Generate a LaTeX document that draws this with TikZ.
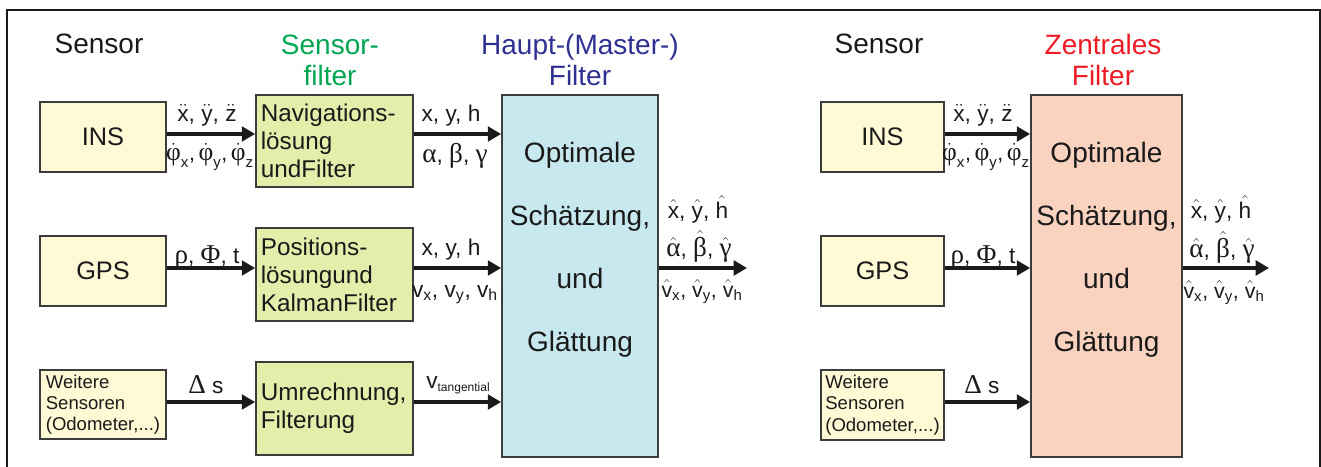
\documentclass[tikz,border=0pt]{standalone}
\usepackage{fontspec}
\usepackage{amsmath}
\setmainfont{Liberation Sans}
\newfontfamily\gr[Scale=1.2]{Liberation Serif}
\usetikzlibrary{arrows.meta}
\definecolor{sensfill}{HTML}{FFF9D5}
\definecolor{filtfill}{HTML}{E5EDAB}
\definecolor{mastfill}{HTML}{C8E8EF}
\definecolor{centfill}{HTML}{FAD3C0}
\definecolor{boxline}{HTML}{3C3C3C}
\definecolor{ink}{HTML}{1A1A1A}
\definecolor{hgreen}{HTML}{00A651}
\definecolor{hblue}{HTML}{2E3192}
\definecolor{hred}{HTML}{ED1C24}
\newcommand\tx[1]{\text{#1}}
\newcommand\grt[1]{\text{\gr #1}}
\tikzset{
 bx/.style={draw=boxline, line width=1.3pt, inner sep=0pt, text=ink},
 sensor/.style={bx, fill=sensfill, minimum height=52.5pt, font=\fontsize{19}{21}\selectfont},
 small/.style={align=left, font=\fontsize{13.9}{15.9}\selectfont},
 filt/.style={bx, fill=filtfill, minimum width=117.75pt, minimum height=69.5pt, text width=110.5pt, align=left, font=\fontsize{18.2}{21}\selectfont},
 arr/.style={line width=2.9pt, draw=ink, -{Triangle[length=10pt,width=11pt]}},
 lab/.style={anchor=base, font=\fontsize{17}{20}\selectfont, inner sep=0pt, text=ink},
 slab/.style={lab, font=\fontsize{16}{20}\selectfont},
 head/.style={align=center, font=\fontsize{21}{23.25}\selectfont, inner sep=0pt},
 big/.style={align=center, font=\fontsize{21}{47.25}\selectfont, inner sep=0pt, text=ink},
}
\begin{document}
\begin{tikzpicture}[x=0.75pt,y=-0.75pt]
\useasboundingbox (0,0) rectangle (1321,467);
% frame
\draw[line width=1.5pt, ink] (7,467) -- (7,10.5) -- (1320,10.5) -- (1320,467);
% rows
\coordinate (r1) at (0,134);
\coordinate (r2) at (0,268);
\coordinate (r3) at (0,402);
\coordinate (o1) at (747,268);
\coordinate (o2) at (1269,268);
% headers left
\node[head, anchor=base, text=ink] (hs1) at (99,54) {Sensor};
\node[head, text=hgreen] (hsf) at (330,60) {Sensor-\\filter};
\node[head, text=hblue] (hmf) at (580,60) {Haupt-(Master-)\\Filter};
% headers right
\node[head, anchor=base, text=ink] (hs2) at (879,54) {Sensor};
\node[head, text=hred] (hzf) at (1103,60) {Zentrales\\Filter};
% left sensors
\node[sensor, minimum width=94.5pt] (ins1) at (103,137) {INS};
\node[sensor, minimum width=94.5pt] (gps1) at (103,271) {GPS};
\node[sensor, small, minimum width=94.5pt, minimum height=51.75pt] (wei1) at (103,404.5) {Weitere\\Sensoren\\(Odometer,...)};
% sensor filters
\node[filt] (nav) at (334.5,141) {Navigations-\\lösung\\undFilter};
\node[filt, minimum height=69.75pt] (pos) at (334.5,274.5) {Positions-\\lösungund\\KalmanFilter};
\node[filt, minimum height=69.75pt] (umr) at (334.5,408.5) {Umrechnung,\\Filterung};
% master filter
\node[bx, fill=mastfill, minimum width=117pt, minimum height=271.5pt] (master) at (580,276) {};
\node[big] (mtext) at (580,250) {Optimale\\Schätzung,\\und\\Glättung};
% right sensors
\node[sensor, minimum width=92.25pt] (ins2) at (882.5,137) {INS};
\node[sensor, minimum width=92.25pt] (gps2) at (882.5,271) {GPS};
\node[sensor, small, minimum width=92.25pt, minimum height=52.5pt] (wei2) at (882.5,405) {Weitere\\Sensoren\\(Odometer,...)};
% central filter
\node[bx, fill=centfill, minimum width=113.25pt, minimum height=271.5pt] (central) at (1106.5,276) {};
\node[big] (ctext) at (1106.5,250) {Optimale\\Schätzung,\\und\\Glättung};
% arrows left
\draw[arr] (ins1.east |- r1) -- (nav.west |- r1);
\draw[arr] (nav.east |- r1) -- (master.west |- r1);
\draw[arr] (gps1.east |- r2) -- (pos.west |- r2);
\draw[arr] (pos.east |- r2) -- (master.west |- r2);
\draw[arr] (wei1.east |- r3) -- (umr.west |- r3);
\draw[arr] (umr.east |- r3) -- (master.west |- r3);
\draw[arr] (master.east |- r2) -- (o1);
% arrows right
\draw[arr] (ins2.east |- r1) -- (central.west |- r1);
\draw[arr] (gps2.east |- r2) -- (central.west |- r2);
\draw[arr] (wei2.east |- r3) -- (central.west |- r3);
\draw[arr] (central.east |- r2) -- (o2);
% labels left
\node[lab] (l1a) at (207,122) {$\ddot{\tx{x}}$, $\ddot{\tx{y}}$, $\ddot{\tx{z}}$};
\node[slab] (l1b) at (210,161) {$\dot{\grt{φ}}_{\tx{x}}$,\,$\dot{\grt{φ}}_{\tx{y}}$,\,$\dot{\grt{φ}}_{\tx{z}}$};
\node[lab] (l2a) at (451,122) {x, y, h};
\node[lab] (l2b) at (455,162) {{\gr α}, {\gr β}, {\gr γ}};
\node[lab] (l3a) at (207,263) {{\gr ρ}, {\gr Φ}, t};
\node[lab] (l4a) at (451,255) {x, y, h};
\node[lab] (l4b) at (455,297) {$\tx{v}_{\tx{x}}$, $\tx{v}_{\tx{y}}$, $\tx{v}_{\tx{h}}$};
\node[lab] (l5a) at (206,393) {{\gr Δ} s};
\node[lab] (l6a) at (458,388) {v\raisebox{-2.5pt}{\fontsize{9}{9}\selectfont tangential}};
\node[lab] (o1a) at (698,218) {$\hat{\tx{x}}$, $\hat{\tx{y}}$, $\hat{\tx{h}}$};
\node[lab] (o1b) at (699,256) {$\hat{\grt{α}}$, $\hat{\grt{β}}$, $\hat{\grt{γ}}$};
\node[slab] (o1c) at (702,297) {$\hat{\tx{v}}_{\tx{x}}$, $\hat{\tx{v}}_{\tx{y}}$, $\hat{\tx{v}}_{\tx{h}}$};
% labels right
\node[lab] (r1a) at (983,122) {$\ddot{\tx{x}}$, $\ddot{\tx{y}}$, $\ddot{\tx{z}}$};
\node[slab] (r1b) at (986,161) {$\dot{\grt{φ}}_{\tx{x}}$,\,$\dot{\grt{φ}}_{\tx{y}}$,\,$\dot{\grt{φ}}_{\tx{z}}$};
\node[lab] (r3a) at (983,263) {{\gr ρ}, {\gr Φ}, t};
\node[lab] (r5a) at (982,393) {{\gr Δ} s};
\node[lab] (o2a) at (1221,218) {$\hat{\tx{x}}$, $\hat{\tx{y}}$, $\hat{\tx{h}}$};
\node[lab] (o2b) at (1222,257) {$\hat{\grt{α}}$, $\hat{\grt{β}}$, $\hat{\grt{γ}}$};
\node[slab] (o2c) at (1224,298) {$\hat{\tx{v}}_{\tx{x}}$, $\hat{\tx{v}}_{\tx{y}}$, $\hat{\tx{v}}_{\tx{h}}$};
\end{tikzpicture}
\end{document}
